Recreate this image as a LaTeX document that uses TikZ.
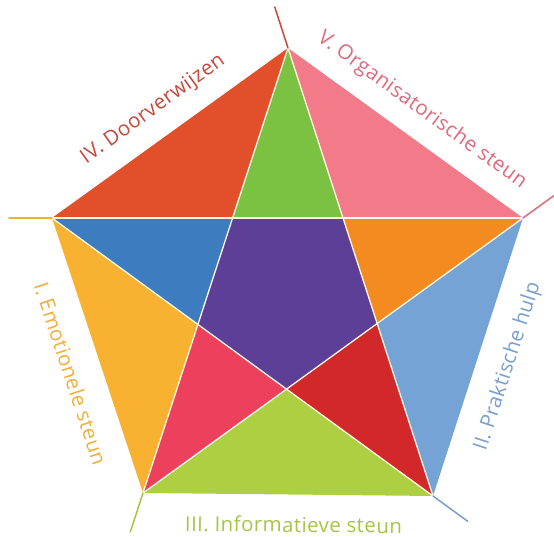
\documentclass[tikz,border=0pt]{standalone}
\usepackage{fontspec}
\setmainfont{Open Sans}[LetterSpace=2]
\usetikzlibrary{calc}
\usepackage{xcolor}

\definecolor{topgreen}{HTML}{7CC242}
\definecolor{redorange}{HTML}{E1502A}
\definecolor{rosepink}{HTML}{F27A89}
\definecolor{midblue}{HTML}{3E7CC0}
\definecolor{brightorange}{HTML}{F48B21}
\definecolor{violet}{HTML}{5E3F98}
\definecolor{amber}{HTML}{F9B131}
\definecolor{raspberry}{HTML}{EC405C}
\definecolor{deepred}{HTML}{D3282A}
\definecolor{skyblue}{HTML}{76A3D6}
\definecolor{limegreen}{HTML}{ADD043}
\definecolor{cream}{HTML}{FFFBE8}
% label colours
\definecolor{txtIV}{HTML}{C8473B}
\definecolor{txtV}{HTML}{DE6A7C}
\definecolor{txtI}{HTML}{F1AE3C}
\definecolor{txtII}{HTML}{7A9FCD}
\definecolor{txtIII}{HTML}{A4C548}

\begin{document}
\begin{tikzpicture}[x=1pt,y=1pt,line join=round,cap=round,
    sep/.style={draw=cream, line width=1.3pt},
    tick/.style={line width=1.5pt},
    lbl/.style={font=\fontsize{20.5}{22}\selectfont, sloped, inner sep=0pt,
        text height=.75em, text depth=.25em}]
    \useasboundingbox (0,0) rectangle (554,537);
    \clip (0,0) rectangle (554,537);

    % corners of the pentagon
    \coordinate (T)  at (288,489);
    \coordinate (R)  at (523,319);
    \coordinate (BR) at (433,41);
    \coordinate (BL) at (143,44);
    \coordinate (L)  at (52,319);

    % corners of the inner pentagon
    \coordinate (a) at (intersection of T--BL and L--R);
    \coordinate (b) at (intersection of T--BR and L--R);
    \coordinate (c) at (intersection of T--BR and R--BL);
    \coordinate (d) at (intersection of L--BR and R--BL);
    \coordinate (e) at (intersection of L--BR and T--BL);

    % the coloured pieces
    \fill[topgreen]     (T) -- (a) -- (b) -- cycle;
    \fill[redorange]    (L) -- (T) -- (a) -- cycle;
    \fill[rosepink]     (T) -- (R) -- (b) -- cycle;
    \fill[midblue]      (L) -- (a) -- (e) -- cycle;
    \fill[brightorange] (R) -- (b) -- (c) -- cycle;
    \fill[violet]       (a) -- (b) -- (c) -- (d) -- (e) -- cycle;
    \fill[amber]        (L) -- (e) -- (BL) -- cycle;
    \fill[raspberry]    (e) -- (d) -- (BL) -- cycle;
    \fill[deepred]      (d) -- (c) -- (BR) -- cycle;
    \fill[skyblue]      (R) -- (BR) -- (c) -- cycle;
    \fill[limegreen]    (BL) -- (BR) -- (d) -- cycle;

    % the star lines
    \draw[sep] (L) -- (R);
    \draw[sep] (T) -- (BL);
    \draw[sep] (T) -- (BR);
    \draw[sep] (L) -- (BR);
    \draw[sep] (R) -- (BL);

    % small ticks at the corners
    \draw[tick, txtIV]  (T)  -- ($(T)!-43pt!(BR)$);
    \draw[tick, txtV]   (R)  -- ($(R)!-43pt!(BL)$);
    \draw[tick, txtI]   (L)  -- ($(L)!-43pt!(R)$);
    \draw[tick, txtIII] (BL) -- ($(BL)!-41pt!(T)$);
    \draw[tick, txtII]  (BR) -- ($(BR)!-43pt!(L)$);

    % text along the sides
    \path (L) -- node[lbl, above=21pt, text=txtIV] {IV. Doorverwijzen} (T);
    \path (T) -- node[lbl, above=20pt, text=txtV] {V. Organisatorische steun} (R);
    \path (L) -- node[lbl, pos=.53, below=31pt, text=txtI] {I. Emotionele steun} (BL);
    \path (BR) -- node[lbl, below=29pt, text=txtII] {II. Praktische hulp} (R);
    \path (BL) -- node[lbl, pos=.52, below=30pt, text=txtIII] {III. Informatieve steun} (BR);
\end{tikzpicture}
\end{document}
